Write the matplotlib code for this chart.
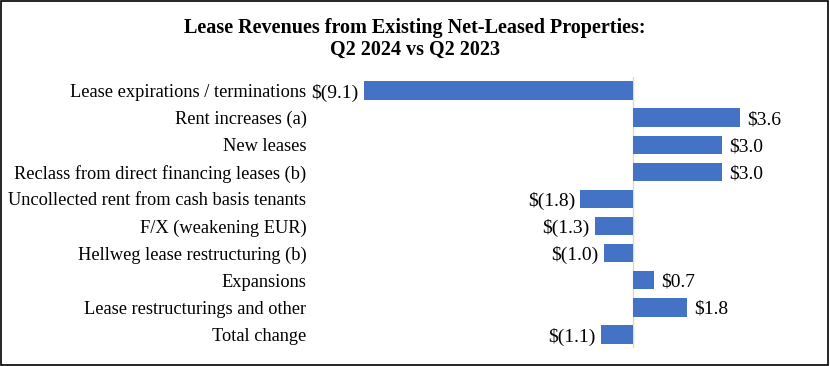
import matplotlib.pyplot as plt
from matplotlib.patches import Rectangle

categories = [
    'Lease expirations / terminations',
    'Rent increases (a)',
    'New leases',
    'Reclass from direct financing leases (b)',
    'Uncollected rent from cash basis tenants',
    'F/X (weakening EUR)',
    'Hellweg lease restructuring (b)',
    'Expansions',
    'Lease restructurings and other',
    'Total change',
]
values = [-9.1, 3.6, 3.0, 3.0, -1.8, -1.3, -1.0, 0.7, 1.8, -1.1]
value_labels = ['$(9.1)', '$3.6', '$3.0', '$3.0', '$(1.8)', '$(1.3)', '$(1.0)', '$0.7', '$1.8', '$(1.1)']

plt.rcParams['font.family'] = ['Liberation Serif', 'DejaVu Serif']

fig = plt.figure(figsize=(8.3, 3.66), dpi=100)
ax = fig.add_axes([312 / 830, 1 - 348 / 366, (768 - 312) / 830, (348 - 77) / 366])

pos = list(range(len(categories)))
ax.barh(pos, values, height=0.68, color='#4472C4', zorder=2)
ax.set_ylim(len(categories) - 0.5, -0.5)
ax.set_xlim(-10.85, 4.55)

ax.set_yticks(pos)
ax.set_yticklabels(categories, fontsize=13.2, va='center_baseline')
ax.tick_params(axis='y', length=0, pad=4)
ax.set_xticks([])
for s in ax.spines.values():
    s.set_visible(False)
ax.axvline(0, color='#d9d9d9', lw=1, zorder=1)

for i, (v, lab) in enumerate(zip(values, value_labels)):
    if v < 0:
        ax.text(v - 0.17, i, lab, ha='right', va='center_baseline', fontsize=14)
    else:
        ax.text(v + 0.25, i, lab, ha='left', va='center_baseline', fontsize=14)

fig.text(0.5, 1 - 28 / 366, 'Lease Revenues from Existing Net-Leased Properties:',
         ha='center', va='center', fontsize=14.5, fontweight='bold')
fig.text(0.5, 1 - 50 / 366, 'Q2 2024 vs Q2 2023',
         ha='center', va='center', fontsize=14.5, fontweight='bold')

fig.patches.append(Rectangle((0.001, 0.002), 0.997, 0.995, transform=fig.transFigure,
                             fill=False, edgecolor='black', lw=1.2))

fig.savefig('out.png', dpi=100)
